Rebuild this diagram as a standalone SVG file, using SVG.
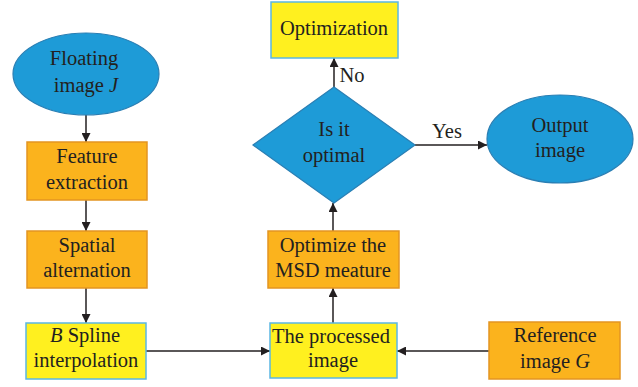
<svg xmlns="http://www.w3.org/2000/svg" width="638" height="387" viewBox="0 0 638 387">
<style>
.t{font-family:"Liberation Serif","Times New Roman",serif;font-size:20.5px;fill:#231F20;text-anchor:middle}
.i{font-style:italic}
.blue{fill:#1E9BD7;stroke:#2A7FB4;stroke-width:1.2}
.org{fill:#FBB31D;stroke:#E39522;stroke-width:1.5}
.yel{fill:#FFF01F;stroke:#5BB7E3;stroke-width:1.5}
.c{stroke:#231F20;stroke-width:1.5;fill:none;marker-end:url(#ah)}
</style>
<defs>
<marker id="ah" viewBox="0 0 10 10" refX="10" refY="5" markerWidth="9" markerHeight="9" markerUnits="userSpaceOnUse" orient="auto">
<path d="M0,0 L10,5 L0,10 z" fill="#231F20"/>
</marker>
</defs>
<rect width="638" height="387" fill="#fff"/>
<g id="connectors">
<line class="c" x1="86" y1="115" x2="86" y2="142"/>
<line class="c" x1="86" y1="200" x2="86" y2="231"/>
<line class="c" x1="86" y1="288" x2="86" y2="323"/>
<line class="c" x1="146" y1="351" x2="270" y2="351"/>
<line class="c" x1="489" y1="351" x2="397" y2="351"/>
<line class="c" x1="333" y1="323" x2="333" y2="288"/>
<line class="c" x1="333" y1="231" x2="333" y2="203"/>
<line class="c" x1="334" y1="87" x2="334" y2="58"/>
<line class="c" x1="415" y1="145" x2="487" y2="145"/>
<text class="t" x="352" y="82" font-size="19">No</text>
<text class="t" x="447" y="138" font-size="19">Yes</text>
</g>
<g id="floating">
<ellipse class="blue" cx="86" cy="74" rx="73" ry="41"/>
<text class="t" x="84" y="65">Floating</text>
<text class="t" x="86" y="92">image <tspan class="i">J</tspan></text>
</g>
<g id="feature">
<rect class="org" x="27" y="142" width="120" height="58"/>
<text class="t" x="87" y="163">Feature</text>
<text class="t" x="87" y="189">extraction</text>
</g>
<g id="spatial">
<rect class="org" x="27" y="231" width="120" height="57"/>
<text class="t" x="87" y="252">Spatial</text>
<text class="t" x="87" y="277">alternation</text>
</g>
<g id="bspline">
<rect class="yel" x="26" y="323" width="120" height="56"/>
<text class="t" x="85" y="342"><tspan class="i">B</tspan> Spline</text>
<text class="t" x="86" y="367">interpolation</text>
</g>
<g id="processed">
<rect class="yel" x="270" y="323" width="127" height="55"/>
<text class="t" x="331" y="343">The processed</text>
<text class="t" x="333" y="367">image</text>
</g>
<g id="msd">
<rect class="org" x="268" y="231" width="131" height="57"/>
<text class="t" x="333" y="252">Optimize the</text>
<text class="t" x="333" y="277">MSD meature</text>
</g>
<g id="decision">
<polygon class="blue" points="334,87 415,145 334,203 253,145"/>
<text class="t" x="334" y="136">Is it</text>
<text class="t" x="334" y="162">optimal</text>
</g>
<g id="optimization">
<rect class="yel" x="271" y="2" width="127" height="56"/>
<text class="t" x="334" y="35">Optimization</text>
</g>
<g id="output">
<ellipse class="blue" cx="560" cy="139" rx="73" ry="44"/>
<text class="t" x="560" y="132">Output</text>
<text class="t" x="560" y="157">image</text>
</g>
<g id="reference">
<rect class="org" x="489" y="322" width="131" height="57"/>
<text class="t" x="555" y="342">Reference</text>
<text class="t" x="555" y="368">image <tspan class="i">G</tspan></text>
</g>
</svg>
